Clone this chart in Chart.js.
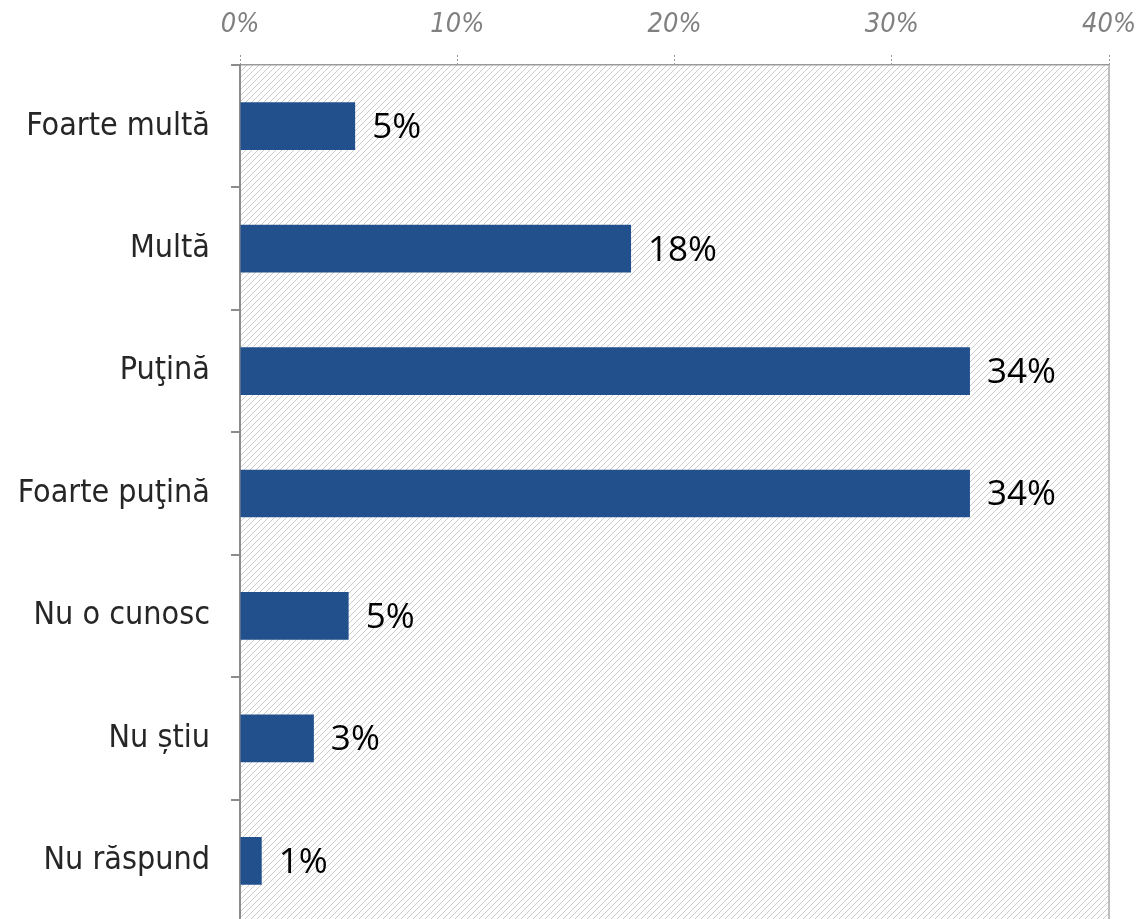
<!DOCTYPE html>
<html>
<head>
<meta charset="utf-8">
<script src="https://cdn.jsdelivr.net/npm/chart.js@4.4.1/dist/chart.umd.min.js"></script>
<style>
  html, body { margin: 0; padding: 0; background: #fff; overflow: hidden; }
  canvas { display: block; }
</style>
</head>
<body>
<canvas id="barChart" width="1144" height="925"></canvas>
<script>
// datos del grafico
var categorias = ["Foarte multă", "Multă", "Puţină", "Foarte puţină", "Nu o cunosc", "Nu știu", "Nu răspund"];
var valores = [5.3, 18, 33.6, 33.6, 5, 3.4, 1];
var etiquetas = ["5%", "18%", "34%", "34%", "5%", "3%", "1%"];
var ticksX = [0, 10, 20, 30, 40];

var fuenteCat = "'DejaVu Sans Condensed', 'DejaVu Sans', sans-serif";
var fuenteNum = "'Open Sans', 'Noto Sans', sans-serif";

// patron rayado del fondo
function crearRayado(){
    var c = document.createElement("canvas");
    c.width = 6; c.height = 6;
    var ctx = c.getContext("2d");
    ctx.fillStyle = "#cccccc";
    for(var i = 0; i < 6; i++){
        ctx.fillRect(i, 5 - i, 1, 1);
    }
    return ctx.createPattern(c, "repeat");
}

var fondoPlugin = {
    id: "fondo",
    beforeDraw: function(chart){
        var a = chart.chartArea, ctx = chart.ctx;
        ctx.save();
        ctx.fillStyle = crearRayado();
        ctx.fillRect(a.left, a.top, a.right - a.left, a.bottom - a.top);
        ctx.restore();
    },
    afterDraw: function(chart){
        var a = chart.chartArea, ctx = chart.ctx;
        ctx.save();
        ctx.strokeStyle = "#bfbfbf";
        ctx.lineWidth = 2;
        ctx.beginPath();
        ctx.moveTo(a.right, a.top);
        ctx.lineTo(a.right, a.bottom);
        ctx.stroke();
        ctx.restore();
    }
};

var etiquetasPlugin = {
    id: "etiquetas",
    afterDatasetsDraw: function(chart){
        var ctx = chart.ctx;
        var meta = chart.getDatasetMeta(0);
        ctx.save();
        ctx.font = "35px " + fuenteNum;
        ctx.fillStyle = "#000";
        ctx.textAlign = "left";
        ctx.textBaseline = "middle";
        meta.data.forEach(function(bar, i){
            ctx.fillText(etiquetas[i], bar.x + 17, bar.y + 2);
        });
        ctx.restore();
    }
};

var barChart = new Chart(document.getElementById("barChart").getContext("2d"), {
    type: "bar",
    data: {
        labels: categorias,
        datasets: [{
            data: valores,
            backgroundColor: "#21508c",
            borderWidth: 0,
            categoryPercentage: 1,
            barPercentage: 0.39
        }]
    },
    options: {
        indexAxis: "y",
        responsive: false,
        animation: false,
        layout: { padding: { left: 0, right: 35, top: 0, bottom: 3 } },
        plugins: { legend: { display: false }, tooltip: { enabled: false } },
        scales: {
            x: {
                position: "top",
                min: ticksX[0],
                max: ticksX[ticksX.length - 1],
                afterBuildTicks: function(scale){
                    scale.ticks = ticksX.map(function(v){ return { value: v }; });
                },
                afterFit: function(scale){
                    scale.height = 65;
                    scale.paddingLeft = 0;
                    scale.paddingRight = 0;
                },
                ticks: {
                    callback: function(v){ return v + "%"; },
                    color: "#808080",
                    font: { family: fuenteCat, size: 27, style: "italic" },
                    padding: 14,
                    maxRotation: 0
                },
                grid: {
                    drawOnChartArea: false,
                    drawTicks: true,
                    tickLength: 10,
                    tickBorderDash: [2, 2],
                    color: "#999"
                },
                border: { display: true, color: "#999", width: 1.5, dash: [2, 2] }
            },
            y: {
                afterFit: function(scale){
                    scale.width = 240;
                    scale.paddingTop = 0;
                    scale.paddingBottom = 0;
                },
                ticks: {
                    color: "#262626",
                    font: { family: fuenteCat, size: 32 },
                    padding: 21
                },
                grid: {
                    offset: true,
                    drawOnChartArea: false,
                    tickLength: 9,
                    color: "#8c8c8c",
                    lineWidth: 2
                },
                border: { display: true, color: "#8c8c8c", width: 2 }
            }
        }
    },
    plugins: [fondoPlugin, etiquetasPlugin]
});
</script>
</body>
</html>
